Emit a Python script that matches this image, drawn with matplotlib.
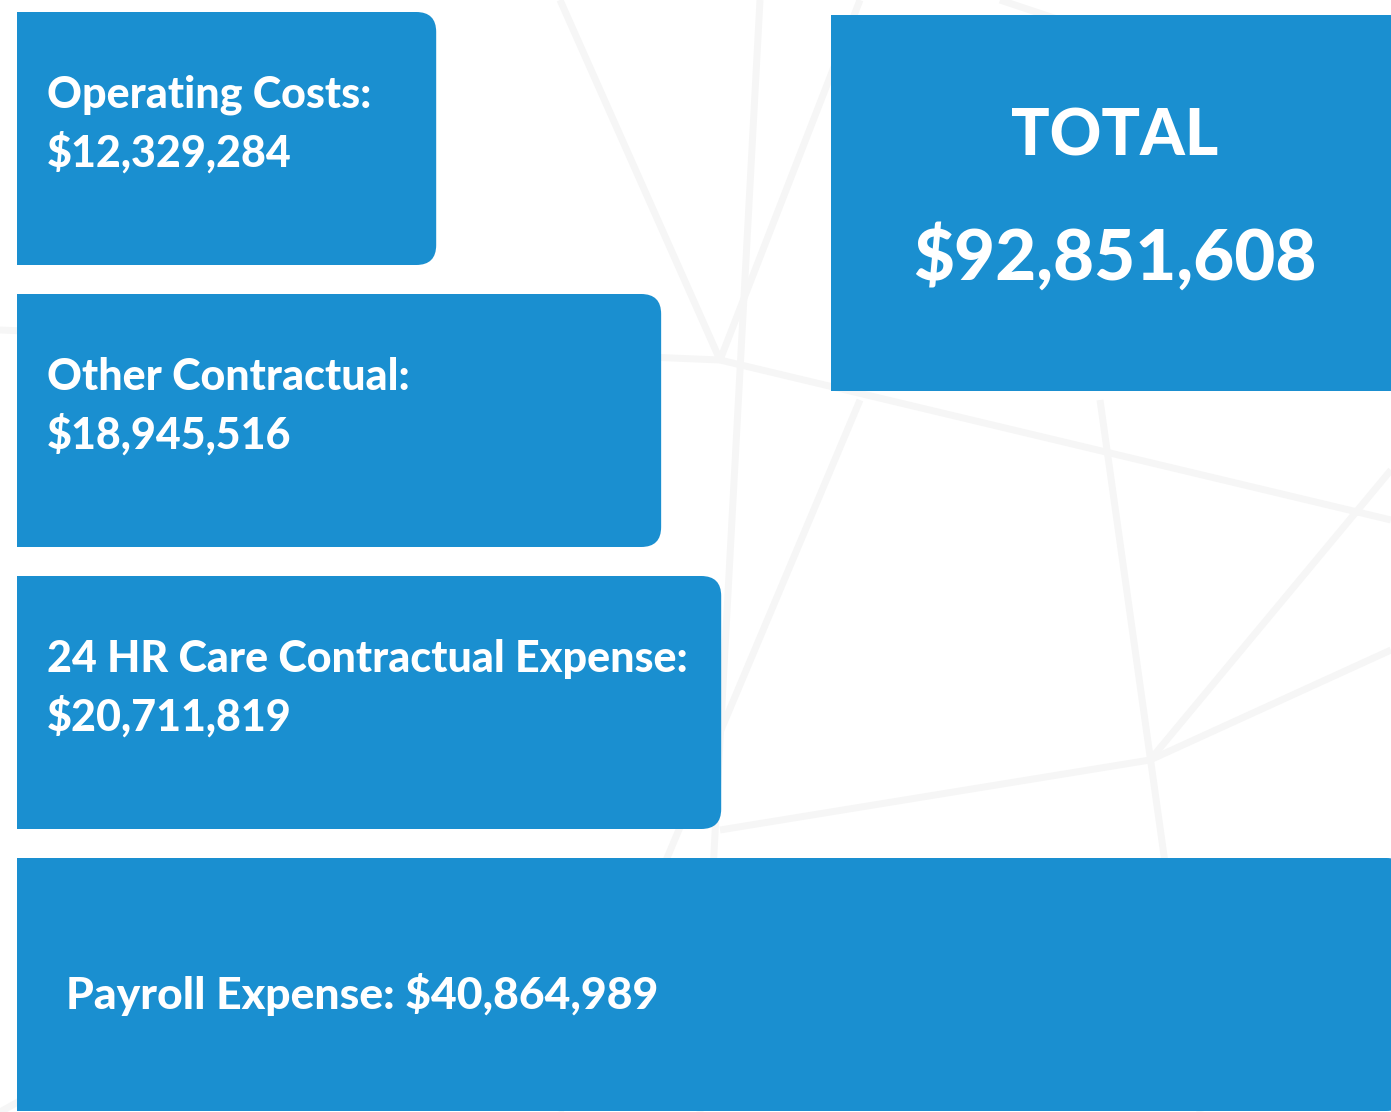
import matplotlib
matplotlib.use("Agg")
import matplotlib.pyplot as plt
from matplotlib.patches import FancyBboxPatch, Rectangle

categories = ["Operating Costs:", "Other Contractual:", "24 HR Care Contractual Expense:", "Payroll Expense:"]
values = [12329284, 18945516, 20711819, 40864989]
value_labels = ["$12,329,284", "$18,945,516", "$20,711,819", "$40,864,989"]
total_label = "TOTAL"
total_value = "$92,851,608"

BLUE = "#1a8fd0"
FONT = "Lato"
W, H = 1391, 1112
fig = plt.figure(figsize=(W / 100, H / 100), dpi=100)
fig.patch.set_facecolor("white")

# faint background decoration lines
bg = fig.add_axes([0, 0, 1, 1], zorder=0)
bg.set_xlim(0, W); bg.set_ylim(H, 0); bg.axis("off")
for (x0, y0, x1, y1) in [(560, 0, 720, 360), (720, 360, 860, 0), (720, 360, 0, 330), (720, 360, 1391, 520),
                         (760, 0, 700, 1112), (860, 400, 560, 1112), (1100, 400, 1200, 1112),
                         (1391, 470, 1150, 760), (1150, 760, 720, 830), (1391, 650, 1150, 760),
                         (1000, 0, 1060, 20), (200, 1000, 0, 1112)]:
    bg.plot([x0, x1], [y0, y1], color="#f6f6f6", lw=5, solid_capstyle="butt")

ax = fig.add_axes([0, 0, 1, 1], zorder=1)
ax.patch.set_alpha(0)
px_x = 34.0 / 1e6   # pixels per dollar
px_y = 282.0        # pixels per category step
ax.set_xlim(-17 / px_x, (W - 17) / px_x)
ax.set_ylim((H - 138.5) / px_y, -138.5 / px_y)
ax.axis("off")

ypos = list(range(len(categories)))
bh = 253 / px_y
r = 20 / px_x
aspect = px_x / px_y
for i, (y, v) in enumerate(zip(ypos, values)):
    ax.add_patch(FancyBboxPatch((0, y - bh / 2), v, bh,
                                boxstyle=f"round,pad=0,rounding_size={r}",
                                mutation_aspect=aspect, fc=BLUE, ec="none", lw=0))
    ax.add_patch(Rectangle((0, y - bh / 2), v / 2, bh, fc=BLUE, ec="none", lw=0))

lab_x = 30 / px_x
for i in range(3):
    ax.text(lab_x, ypos[i] - 0.05, categories[i] + "\n" + value_labels[i],
            color="white", fontsize=31, fontweight="black", family=FONT,
            ha="left", va="center", linespacing=1.45)
ax.text(49 / px_x, ypos[3] + 0.035, categories[3] + " " + value_labels[3],
        color="white", fontsize=32, fontweight="black", family=FONT,
        ha="left", va="center")

# total box
fig.patches.append(Rectangle((831 / W, 1 - 391 / H), (W - 831) / W, (391 - 15) / H,
                             transform=fig.transFigure, fc=BLUE, ec="none", zorder=2))
fig.text(1115 / W, 1 - 137 / H, total_label, color="white", fontsize=46, fontweight="black",
         family=FONT, ha="center", va="center", zorder=3)
fig.text(1115 / W, 1 - 257 / H, total_value, color="white", fontsize=51, fontweight="black",
         family=FONT, ha="center", va="center", zorder=3)

fig.savefig("out.png", dpi=100, facecolor="white")
